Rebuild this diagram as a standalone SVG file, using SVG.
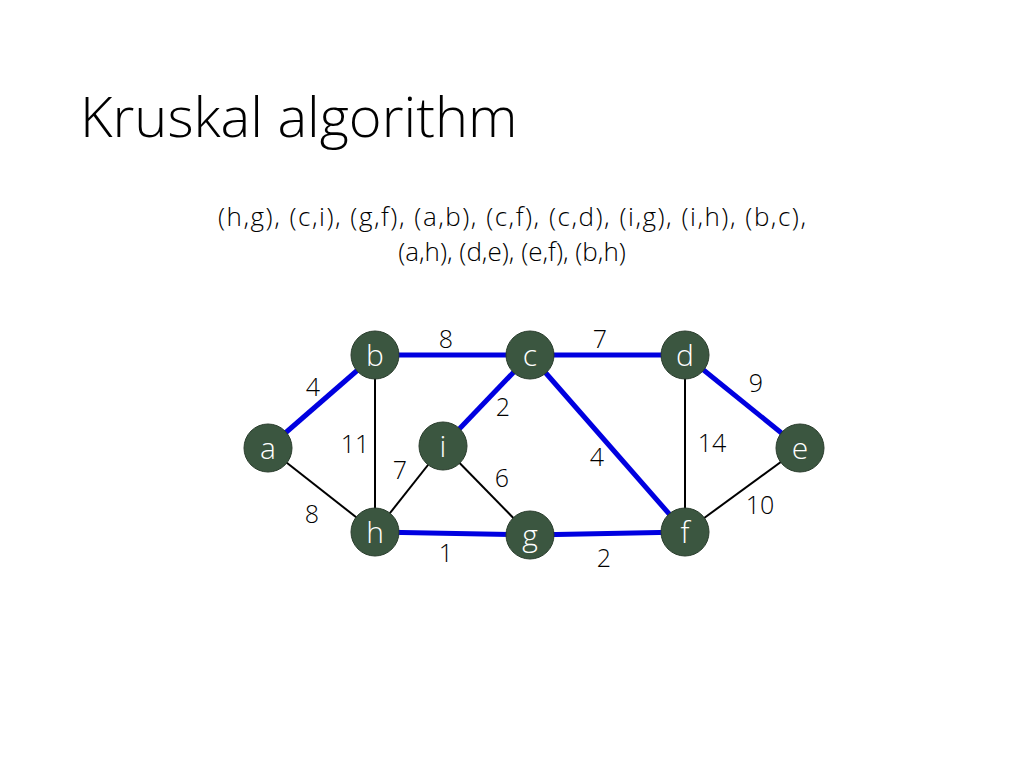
<svg xmlns="http://www.w3.org/2000/svg" width="1024" height="768" viewBox="0 0 1024 768">
<style>
text{font-family:"Open Sans","Noto Sans","Liberation Sans",sans-serif;fill:#000;font-weight:300}
.n circle{fill:#3b5640;stroke:#2a3d2d;stroke-width:1}
.n text{fill:#fff;font-size:30px;text-anchor:middle}
.k{stroke:#000;stroke-width:2}
.bl{stroke:#0000e0;stroke-width:5}
.w{font-size:25px;text-anchor:middle}
</style>
<rect width="1024" height="768" fill="#fff"/>
<text x="80" y="137" font-size="56">Kruskal algorithm</text>
<text x="512" y="226" font-size="26" text-anchor="middle" textLength="588" lengthAdjust="spacing">(h,g), (c,i), (g,f), (a,b), (c,f), (c,d), (i,g), (i,h), (b,c),</text>
<text x="512" y="261" font-size="26" text-anchor="middle">(a,h), (d,e), (e,f), (b,h)</text>
<g id="edges">
<line class="k" x1="268" y1="448" x2="375" y2="532"/>
<line class="k" x1="375" y1="355" x2="375" y2="532"/>
<line class="k" x1="443" y1="446" x2="375" y2="532"/>
<line class="k" x1="443" y1="446" x2="530" y2="535"/>
<line class="k" x1="685" y1="355" x2="685" y2="532"/>
<line class="k" x1="800" y1="448" x2="685" y2="532"/>
<line class="bl" x1="268" y1="448" x2="375" y2="355"/>
<line class="bl" x1="375" y1="355" x2="530" y2="355"/>
<line class="bl" x1="530" y1="355" x2="443" y2="446"/>
<line class="bl" x1="375" y1="532" x2="530" y2="535"/>
<line class="bl" x1="530" y1="355" x2="685" y2="532"/>
<line class="bl" x1="530" y1="355" x2="685" y2="355"/>
<line class="bl" x1="685" y1="355" x2="800" y2="448"/>
<line class="bl" x1="530" y1="535" x2="685" y2="532"/>
</g>
<g id="labels">
<text class="w" x="313" y="396">4</text>
<text class="w" x="446" y="348">8</text>
<text class="w" x="600" y="348">7</text>
<text class="w" x="756" y="392">9</text>
<text class="w" x="503" y="416">2</text>
<text class="w" x="355" y="453">11</text>
<text class="w" x="400" y="479">7</text>
<text class="w" x="502" y="487">6</text>
<text class="w" x="597" y="466">4</text>
<text class="w" x="712" y="452">14</text>
<text class="w" x="760" y="514">10</text>
<text class="w" x="312" y="523">8</text>
<text class="w" x="446" y="562">1</text>
<text class="w" x="604" y="567">2</text>
</g>
<g id="a" class="n"><circle cx="268" cy="448" r="24"/><text x="268" y="459">a</text></g>
<g id="b" class="n"><circle cx="375" cy="355" r="24"/><text x="375" y="366">b</text></g>
<g id="c" class="n"><circle cx="530" cy="355" r="24"/><text x="530" y="366">c</text></g>
<g id="d" class="n"><circle cx="685" cy="355" r="24"/><text x="685" y="366">d</text></g>
<g id="e" class="n"><circle cx="800" cy="448" r="24"/><text x="800" y="459">e</text></g>
<g id="f" class="n"><circle cx="685" cy="532" r="24"/><text x="685" y="543">f</text></g>
<g id="g" class="n"><circle cx="530" cy="535" r="24"/><text x="530" y="546">g</text></g>
<g id="h" class="n"><circle cx="375" cy="532" r="24"/><text x="375" y="543">h</text></g>
<g id="i" class="n"><circle cx="443" cy="446" r="24"/><text x="443" y="457">i</text></g>
</svg>
